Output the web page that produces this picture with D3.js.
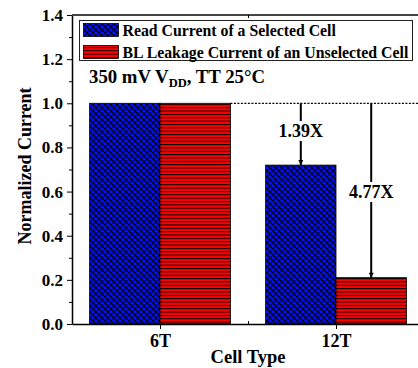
<!DOCTYPE html>
<html>
<head>
<meta charset="utf-8">
<script src="https://cdn.jsdelivr.net/npm/d3@7"></script>
<style>
  html, body { margin: 0; padding: 0; background: #fff; }
  svg { display: block; }
  text { font-family: 'Liberation Serif', 'Times New Roman', serif; font-weight: bold; fill: #000; }
</style>
</head>
<body>
<svg id="chart" width="418" height="368"></svg>
<script>
// data
const CATEGORIES = ['6T', '12T'];
const READ_CURRENT = [1.0, 0.72];
const BL_LEAKAGE = [1.0, 0.21];
const SERIES_NAMES = ['Read Current of a Selected Cell', 'BL Leakage Current of an Unselected Cell'];
const Y_TICKS = [0.0, 0.2, 0.4, 0.6, 0.8, 1.0, 1.2, 1.4];
const RATIO_LABELS = ['1.39X', '4.77X'];

const WIDTH = 418;
const LEFT = 72;
const RIGHT = 424;
const TOP = 15;
const BOTTOM = 324;
const BAR_W = 0.4;
const FONT_SIZE = 18;

const svg = d3.select('#chart');
const defs = svg.append('defs');

// blue cross hatch
const blue = defs.append('pattern').attr('id', 'hatchBlue')
  .attr('patternUnits', 'userSpaceOnUse').attr('width', 6).attr('height', 6);
blue.append('rect').attr('width', 6).attr('height', 6).attr('fill', '#0010ff');
blue.append('path')
  .attr('d', 'M-1,1L1,-1M0,6L6,0M5,7L7,5M-1,5L1,7M0,0L6,6M5,-1L7,1')
  .attr('stroke', '#000').attr('stroke-width', 1.1).attr('fill', 'none');

// red horizontal lines
const red = defs.append('pattern').attr('id', 'hatchRed')
  .attr('patternUnits', 'userSpaceOnUse').attr('width', 6).attr('height', 3.35);
red.append('rect').attr('width', 6).attr('height', 3.35).attr('fill', '#f00');
red.append('line').attr('x1', 0).attr('x2', 6).attr('y1', 0.5).attr('y2', 0.5)
  .attr('stroke', '#000').attr('stroke-width', 1);

defs.append('marker').attr('id', 'arrow').attr('viewBox', '0 0 10 10')
  .attr('refX', 10).attr('refY', 5).attr('markerWidth', 7).attr('markerHeight', 5)
  .attr('orient', 'auto').attr('markerUnits', 'userSpaceOnUse')
  .append('path').attr('d', 'M0,0L10,5L0,10Z').attr('fill', '#000');

const x = d3.scaleLinear().domain([0.5, 2.5]).range([LEFT, RIGHT]);
const y = d3.scaleLinear().domain([0, 1.4]).range([BOTTOM, TOP]);

const FILLS = ['url(#hatchBlue)', 'url(#hatchRed)'];
const series = [READ_CURRENT, BL_LEAKAGE];

// bars
series.forEach((vals, s) => {
  svg.append('g').selectAll('rect').data(vals).enter().append('rect')
    .attr('x', (d, i) => x(i + 1 - BAR_W + s * BAR_W))
    .attr('width', x(BAR_W) - x(0))
    .attr('y', (d) => y(d))
    .attr('height', (d) => y(0) - y(d))
    .attr('fill', FILLS[s])
    .attr('stroke', '#000').attr('stroke-width', 0.8);
});

// dashed reference at 1.0
svg.append('line')
  .attr('x1', x(1 + BAR_W)).attr('x2', WIDTH)
  .attr('y1', y(1)).attr('y2', y(1))
  .attr('stroke', '#000').attr('stroke-width', 1.2).attr('stroke-dasharray', '2,1.5');

// axes
const yMinor = d3.range(0.1, 1.4, 0.2);
svg.append('g').attr('transform', `translate(${LEFT},0)`)
  .call(d3.axisLeft(y).tickValues(Y_TICKS).tickFormat(d3.format('.1f')).tickSize(5).tickSizeOuter(0).tickPadding(4))
  .call((g) => g.selectAll('text').attr('font-size', 17).attr('font-family', null))
  .call((g) => g.select('.domain').attr('stroke-width', 1.5));
svg.append('g').attr('transform', `translate(${LEFT},0)`)
  .call(d3.axisLeft(y).tickValues(yMinor).tickFormat('').tickSize(3).tickSizeOuter(0))
  .call((g) => g.select('.domain').remove());

// right mirror ticks (inward)
svg.append('g').attr('transform', `translate(${RIGHT},0)`)
  .call(d3.axisLeft(y).tickValues(Y_TICKS.concat(yMinor)).tickFormat('').tickSize(6).tickSizeOuter(0))
  .call((g) => g.select('.domain').remove());

svg.append('g').attr('transform', `translate(0,${BOTTOM})`)
  .call(d3.axisBottom(x).tickValues([1, 2]).tickFormat((d, i) => CATEGORIES[i]).tickSize(5).tickSizeOuter(0).tickPadding(5))
  .call((g) => g.selectAll('text').attr('font-size', FONT_SIZE).attr('font-family', null))
  .call((g) => g.select('.domain').attr('stroke-width', 1.5));
svg.append('g').attr('transform', `translate(0,${BOTTOM})`)
  .call(d3.axisTop(x).tickValues([1.5]).tickFormat('').tickSize(3).tickSizeOuter(0))
  .call((g) => g.select('.domain').remove());

// top frame
svg.append('line').attr('x1', LEFT).attr('x2', RIGHT).attr('y1', TOP).attr('y2', TOP)
  .attr('stroke', '#444').attr('stroke-width', 2);
svg.append('g').attr('transform', `translate(0,${TOP})`)
  .call(d3.axisBottom(x).tickValues([1.5]).tickFormat('').tickSize(3).tickSizeOuter(0))
  .call((g) => g.select('.domain').remove());

// axis titles
svg.append('text').attr('x', x(1.5)).attr('y', 363).attr('text-anchor', 'middle')
  .attr('font-size', FONT_SIZE + 0.5).text('Cell Type');
svg.append('text').attr('transform', 'translate(31,166) rotate(-90)')
  .attr('text-anchor', 'middle').attr('font-size', FONT_SIZE).text('Normalized Current');

// legend
const legend = svg.append('g');
legend.append('rect').attr('x', 79.5).attr('y', 20.5).attr('width', 333).attr('height', 40)
  .attr('fill', '#fff').attr('stroke', '#222').attr('stroke-width', 1);
SERIES_NAMES.forEach((name, i) => {
  const ly = 23.5 + i * 22;
  legend.append('rect').attr('x', 83.5).attr('y', ly).attr('width', 35).attr('height', 13)
    .attr('fill', FILLS[i]).attr('stroke', '#000').attr('stroke-width', 0.8);
  legend.append('text').attr('x', 122.5).attr('y', ly + 12).attr('font-size', 15.8).text(name);
});

// condition label
const cond = svg.append('text').attr('x', 89).attr('y', 83).attr('font-size', 18.8);
cond.append('tspan').text('350 mV V');
cond.append('tspan').attr('font-size', 12.5).attr('dy', 4).text('DD');
cond.append('tspan').attr('dy', -4).text(', TT 25°C');

// ratio arrows
const arrows = [
  { xv: 2 - BAR_W / 2, to: READ_CURRENT[1], label: RATIO_LABELS[0], ty: 137 },
  { xv: 2 + BAR_W / 2, to: BL_LEAKAGE[1], label: RATIO_LABELS[1], ty: 198 }
];
arrows.forEach((a) => {
  const ax = x(a.xv);
  svg.append('line').attr('x1', ax).attr('x2', ax).attr('y1', y(1)).attr('y2', a.ty - 16)
    .attr('stroke', '#000').attr('stroke-width', 2);
  svg.append('line').attr('x1', ax).attr('x2', ax).attr('y1', a.ty + 4).attr('y2', y(a.to))
    .attr('stroke', '#000').attr('stroke-width', 2).attr('marker-end', 'url(#arrow)');
  svg.append('text').attr('x', ax).attr('y', a.ty).attr('text-anchor', 'middle')
    .attr('font-size', FONT_SIZE).text(a.label);
});
</script>
</body>
</html>
